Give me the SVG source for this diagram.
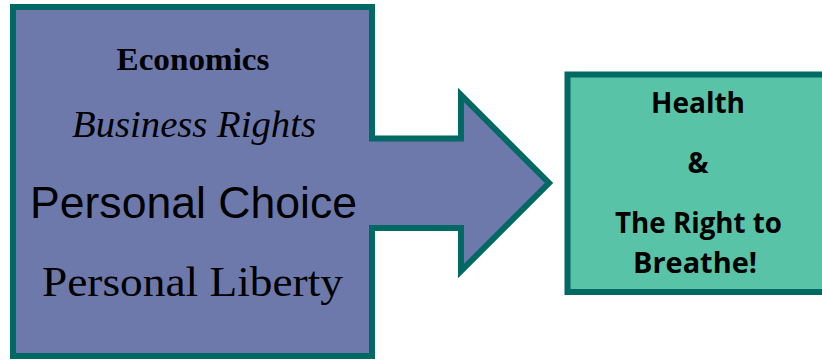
<svg xmlns="http://www.w3.org/2000/svg" width="822" height="360" viewBox="0 0 822 360">
  <style>
    .shape { stroke: #006963; stroke-width: 6; stroke-linejoin: miter; stroke-miterlimit: 10; }
    .purple { fill: #6d79ab; }
    .green { fill: #58c3a7; }
    .t { fill: #000; text-anchor: middle; }
    .serif { font-family: "Liberation Serif", "Times New Roman", serif; }
    .sans { font-family: "Liberation Sans", Arial, sans-serif; }
    .gtxt { font-family: "Open Sans", "Liberation Sans", sans-serif; font-weight: bold; font-size: 28px; }
  </style>
  <rect width="822" height="360" fill="#ffffff"/>
  <g id="source">
    <path class="shape purple" d="M13,7 H372 V138.5 H461 V95 L549,183 L461,271 V228 H372 V356 H13 Z"/>
    <text class="t serif" x="193" y="70" font-size="31" font-weight="bold" textLength="153" lengthAdjust="spacingAndGlyphs">Economics</text>
    <text class="t serif" x="194" y="137" font-size="37" font-style="italic" textLength="244" lengthAdjust="spacingAndGlyphs">Business Rights</text>
    <text class="t sans" x="193.5" y="218" font-size="44" textLength="327" lengthAdjust="spacingAndGlyphs">Personal Choice</text>
    <text class="t serif" x="192.5" y="296" font-size="42" textLength="301" lengthAdjust="spacingAndGlyphs">Personal Liberty</text>
  </g>
  <g id="target">
    <rect class="shape green" x="567.5" y="74.5" width="270" height="217.5"/>
    <text class="t gtxt" x="698" y="113">Health</text>
    <text class="t gtxt" x="698" y="173">&amp;</text>
    <text class="t gtxt" x="698.5" y="233" textLength="167" lengthAdjust="spacingAndGlyphs">The Right to</text>
    <text class="t gtxt" x="695" y="273" textLength="124" lengthAdjust="spacingAndGlyphs">Breathe!</text>
  </g>
  <g id="connectors"/>
</svg>
